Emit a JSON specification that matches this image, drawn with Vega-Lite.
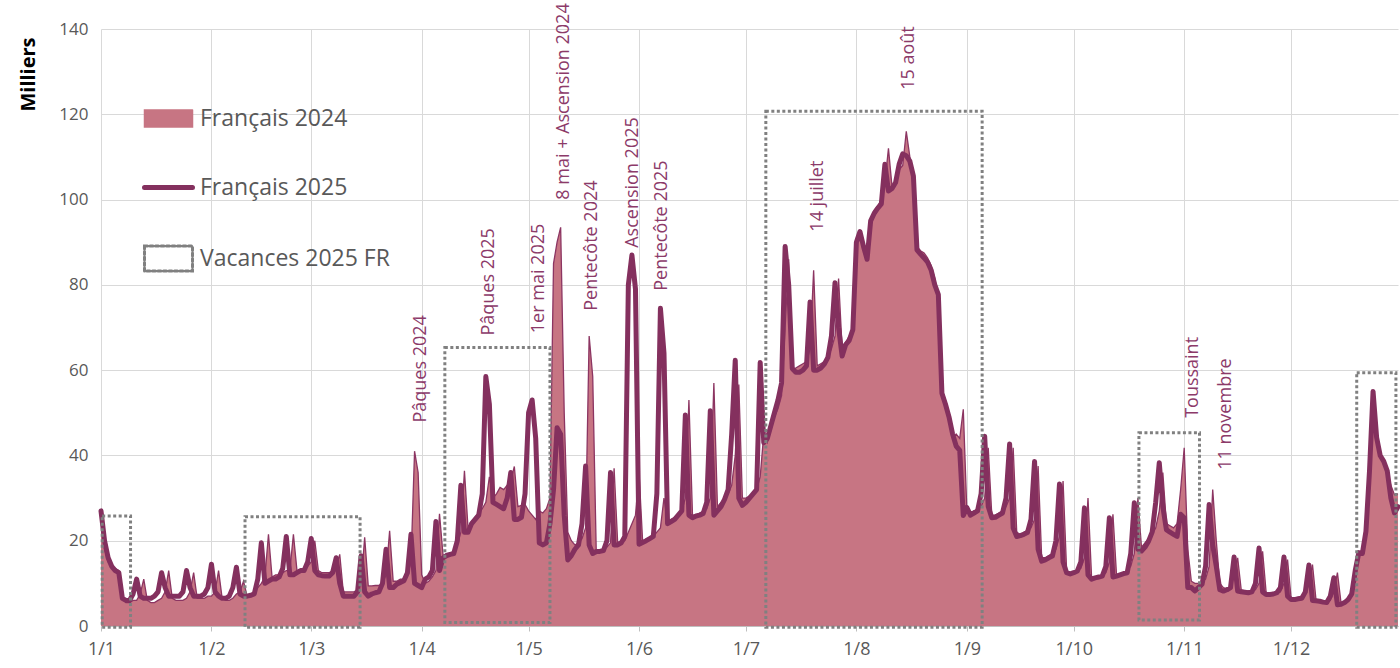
{
  "$schema": "https://vega.github.io/schema/vega-lite/v6.json",
  "width": 1297,
  "height": 597,
  "autosize": {"type": "none"},
  "padding": {"left": 101, "top": 29, "right": 2, "bottom": 42},
  "background": "white",
  "config": {
    "view": {"stroke": null},
    "font": "Open Sans",
    "axis": {"gridColor": "#d9d9d9", "gridWidth": 1, "labelFont": "Open Sans", "labelColor": "#595959", "labelFontSize": 17}
  },
  "datasets": {
    "series": [
{"d":"2025-01-01","a":26,"b":27},{"d":"2025-01-02","a":18,"b":20},{"d":"2025-01-03","a":15,"b":16},{"d":"2025-01-04","a":14,"b":14},{"d":"2025-01-05","a":13.5,"b":13},{"d":"2025-01-06","a":13,"b":12.5},{"d":"2025-01-07","a":7,"b":6.5},{"d":"2025-01-08","a":5.5,"b":6},{"d":"2025-01-09","a":5.5,"b":6},{"d":"2025-01-10","a":6,"b":7.5},{"d":"2025-01-11","a":6,"b":11},{"d":"2025-01-12","a":7.5,"b":7},{"d":"2025-01-13","a":11,"b":6.5},{"d":"2025-01-14","a":6,"b":6.5},{"d":"2025-01-15","a":5.5,"b":6.5},{"d":"2025-01-16","a":5.5,"b":7},{"d":"2025-01-17","a":6,"b":8},{"d":"2025-01-18","a":6.5,"b":12.5},{"d":"2025-01-19","a":8,"b":9},{"d":"2025-01-20","a":13,"b":7},{"d":"2025-01-21","a":6.5,"b":7},{"d":"2025-01-22","a":6,"b":7},{"d":"2025-01-23","a":6,"b":7},{"d":"2025-01-24","a":6,"b":8},{"d":"2025-01-25","a":6.5,"b":13},{"d":"2025-01-26","a":8,"b":9},{"d":"2025-01-27","a":12.5,"b":7},{"d":"2025-01-28","a":6.5,"b":7},{"d":"2025-01-29","a":6.5,"b":7},{"d":"2025-01-30","a":6.5,"b":7.5},{"d":"2025-01-31","a":7,"b":9},
{"d":"2025-02-01","a":7,"b":14.5},{"d":"2025-02-02","a":8,"b":8},{"d":"2025-02-03","a":13,"b":7},{"d":"2025-02-04","a":6.5,"b":6.5},{"d":"2025-02-05","a":6,"b":6.5},{"d":"2025-02-06","a":6,"b":7},{"d":"2025-02-07","a":6.5,"b":9},{"d":"2025-02-08","a":7.5,"b":13.8},{"d":"2025-02-09","a":8,"b":7.5},{"d":"2025-02-10","a":10.5,"b":7},{"d":"2025-02-11","a":7,"b":7},{"d":"2025-02-12","a":7.5,"b":7.2},{"d":"2025-02-13","a":8,"b":7.5},{"d":"2025-02-14","a":9,"b":11},{"d":"2025-02-15","a":10,"b":19.5},{"d":"2025-02-16","a":11.5,"b":10},{"d":"2025-02-17","a":21.5,"b":10.5},{"d":"2025-02-18","a":11.5,"b":11},{"d":"2025-02-19","a":12,"b":11},{"d":"2025-02-20","a":12,"b":11.5},{"d":"2025-02-21","a":12.5,"b":13.5},{"d":"2025-02-22","a":13,"b":21},{"d":"2025-02-23","a":13,"b":12},{"d":"2025-02-24","a":21.5,"b":12},{"d":"2025-02-25","a":13,"b":12.5},{"d":"2025-02-26","a":13,"b":13},{"d":"2025-02-27","a":13.5,"b":13},{"d":"2025-02-28","a":14,"b":15},
{"d":"2025-03-01","a":15,"b":20.5},{"d":"2025-03-02","a":20,"b":13},{"d":"2025-03-03","a":13,"b":12},{"d":"2025-03-04","a":12.5,"b":11.8},{"d":"2025-03-05","a":12.5,"b":11.7},{"d":"2025-03-06","a":12.5,"b":11.7},{"d":"2025-03-07","a":13,"b":12.5},{"d":"2025-03-08","a":14,"b":16},{"d":"2025-03-09","a":16.8,"b":10},{"d":"2025-03-10","a":8,"b":7},{"d":"2025-03-11","a":8,"b":7},{"d":"2025-03-12","a":8,"b":7},{"d":"2025-03-13","a":8,"b":7},{"d":"2025-03-14","a":8.5,"b":8},{"d":"2025-03-15","a":10,"b":16.5},{"d":"2025-03-16","a":20.8,"b":8},{"d":"2025-03-17","a":9.4,"b":7},{"d":"2025-03-18","a":9.4,"b":7.5},{"d":"2025-03-19","a":9.5,"b":7.8},{"d":"2025-03-20","a":9.5,"b":8},{"d":"2025-03-21","a":10,"b":10},{"d":"2025-03-22","a":12,"b":18},{"d":"2025-03-23","a":22.3,"b":9},{"d":"2025-03-24","a":10.5,"b":9},{"d":"2025-03-25","a":10.5,"b":9.8},{"d":"2025-03-26","a":11,"b":10.2},{"d":"2025-03-27","a":11,"b":10.6},{"d":"2025-03-28","a":12,"b":12.5},{"d":"2025-03-29","a":15,"b":21.5},{"d":"2025-03-30","a":41,"b":10},{"d":"2025-03-31","a":36,"b":9.5},
{"d":"2025-04-01","a":12,"b":9},{"d":"2025-04-02","a":10,"b":11},{"d":"2025-04-03","a":10.5,"b":11.5},{"d":"2025-04-04","a":11.5,"b":13},{"d":"2025-04-05","a":13,"b":24.5},{"d":"2025-04-06","a":26.3,"b":13},{"d":"2025-04-07","a":16.5,"b":16},{"d":"2025-04-08","a":17,"b":16.5},{"d":"2025-04-09","a":17,"b":16.8},{"d":"2025-04-10","a":17.5,"b":17},{"d":"2025-04-11","a":19,"b":20},{"d":"2025-04-12","a":22,"b":33},{"d":"2025-04-13","a":36.4,"b":22},{"d":"2025-04-14","a":23,"b":22},{"d":"2025-04-15","a":24.5,"b":24},{"d":"2025-04-16","a":25.5,"b":25},{"d":"2025-04-17","a":26.5,"b":26},{"d":"2025-04-18","a":27.5,"b":31},{"d":"2025-04-19","a":29,"b":58.5},{"d":"2025-04-20","a":35,"b":52},{"d":"2025-04-21","a":30,"b":29},{"d":"2025-04-22","a":31,"b":28.5},{"d":"2025-04-23","a":32.5,"b":28},{"d":"2025-04-24","a":32,"b":27.5},{"d":"2025-04-25","a":33,"b":30},{"d":"2025-04-26","a":34,"b":36},{"d":"2025-04-27","a":37.4,"b":25},{"d":"2025-04-28","a":28,"b":25},{"d":"2025-04-29","a":28.3,"b":25.5},{"d":"2025-04-30","a":28.5,"b":31},
{"d":"2025-05-01","a":27,"b":50},{"d":"2025-05-02","a":26,"b":53},{"d":"2025-05-03","a":25,"b":44},{"d":"2025-05-04","a":27,"b":19.5},{"d":"2025-05-05","a":26.5,"b":19},{"d":"2025-05-06","a":27.5,"b":19.5},{"d":"2025-05-07","a":30,"b":24},{"d":"2025-05-08","a":85,"b":32},{"d":"2025-05-09","a":90,"b":46.5},{"d":"2025-05-10","a":93.5,"b":45},{"d":"2025-05-11","a":50,"b":26},{"d":"2025-05-12","a":22,"b":15.5},{"d":"2025-05-13","a":20,"b":16.5},{"d":"2025-05-14","a":19,"b":18},{"d":"2025-05-15","a":19.5,"b":19},{"d":"2025-05-16","a":20.5,"b":24},{"d":"2025-05-17","a":23,"b":37.5},{"d":"2025-05-18","a":68,"b":19},{"d":"2025-05-19","a":58.5,"b":17},{"d":"2025-05-20","a":17,"b":17.5},{"d":"2025-05-21","a":17.5,"b":17.5},{"d":"2025-05-22","a":18,"b":17.7},{"d":"2025-05-23","a":18.5,"b":20},{"d":"2025-05-24","a":19.5,"b":36},{"d":"2025-05-25","a":37,"b":19},{"d":"2025-05-26","a":19.5,"b":19},{"d":"2025-05-27","a":20,"b":19.5},{"d":"2025-05-28","a":20,"b":21},{"d":"2025-05-29","a":22,"b":80},{"d":"2025-05-30","a":24,"b":87},{"d":"2025-05-31","a":26,"b":79},
{"d":"2025-06-01","a":36,"b":19.2},{"d":"2025-06-02","a":20,"b":19.6},{"d":"2025-06-03","a":20,"b":20},{"d":"2025-06-04","a":20.5,"b":20.5},{"d":"2025-06-05","a":21,"b":21},{"d":"2025-06-06","a":22,"b":31},{"d":"2025-06-07","a":23,"b":74.5},{"d":"2025-06-08","a":30,"b":64},{"d":"2025-06-09","a":24.5,"b":24},{"d":"2025-06-10","a":25,"b":24.5},{"d":"2025-06-11","a":25.5,"b":25},{"d":"2025-06-12","a":26,"b":26},{"d":"2025-06-13","a":27,"b":27},{"d":"2025-06-14","a":30,"b":49.5},{"d":"2025-06-15","a":53,"b":26},{"d":"2025-06-16","a":26,"b":25.4},{"d":"2025-06-17","a":26,"b":25.8},{"d":"2025-06-18","a":26.4,"b":26},{"d":"2025-06-19","a":27,"b":26.4},{"d":"2025-06-20","a":27.5,"b":29},{"d":"2025-06-21","a":30,"b":50.5},{"d":"2025-06-22","a":57,"b":26},{"d":"2025-06-23","a":28,"b":27},{"d":"2025-06-24","a":29,"b":28},{"d":"2025-06-25","a":30,"b":29.7},{"d":"2025-06-26","a":31,"b":32},{"d":"2025-06-27","a":33,"b":45},{"d":"2025-06-28","a":40,"b":62.3},{"d":"2025-06-29","a":56.6,"b":30},{"d":"2025-06-30","a":30,"b":28.3},
{"d":"2025-07-01","a":30,"b":29},{"d":"2025-07-02","a":30.5,"b":30},{"d":"2025-07-03","a":31,"b":31},{"d":"2025-07-04","a":32,"b":32},{"d":"2025-07-05","a":35,"b":61.8},{"d":"2025-07-06","a":45,"b":43},{"d":"2025-07-07","a":43,"b":44},{"d":"2025-07-08","a":46,"b":47},{"d":"2025-07-09","a":49,"b":50},{"d":"2025-07-10","a":51,"b":53},{"d":"2025-07-11","a":54,"b":57},{"d":"2025-07-12","a":70,"b":89},{"d":"2025-07-13","a":86,"b":80},{"d":"2025-07-14","a":60,"b":60.4},{"d":"2025-07-15","a":60.5,"b":59.5},{"d":"2025-07-16","a":61,"b":59.5},{"d":"2025-07-17","a":61.5,"b":60},{"d":"2025-07-18","a":62,"b":61},{"d":"2025-07-19","a":65,"b":76},{"d":"2025-07-20","a":83.4,"b":60},{"d":"2025-07-21","a":61,"b":60},{"d":"2025-07-22","a":61.5,"b":60.5},{"d":"2025-07-23","a":62,"b":61.4},{"d":"2025-07-24","a":63,"b":63},{"d":"2025-07-25","a":65,"b":68},{"d":"2025-07-26","a":68,"b":80.5},{"d":"2025-07-27","a":81.5,"b":70},{"d":"2025-07-28","a":65,"b":63.3},{"d":"2025-07-29","a":66.5,"b":66},{"d":"2025-07-30","a":68,"b":67},{"d":"2025-07-31","a":70,"b":69.5},
{"d":"2025-08-01","a":91,"b":90},{"d":"2025-08-02","a":92,"b":92.5},{"d":"2025-08-03","a":90,"b":89},{"d":"2025-08-04","a":87,"b":86},{"d":"2025-08-05","a":94,"b":95},{"d":"2025-08-06","a":97.5,"b":96.8},{"d":"2025-08-07","a":98.5,"b":98},{"d":"2025-08-08","a":100,"b":99},{"d":"2025-08-09","a":104,"b":108.3},{"d":"2025-08-10","a":112,"b":102},{"d":"2025-08-11","a":103,"b":102.6},{"d":"2025-08-12","a":104.5,"b":104},{"d":"2025-08-13","a":107,"b":108.3},{"d":"2025-08-14","a":108,"b":110.7},{"d":"2025-08-15","a":116,"b":110.3},{"d":"2025-08-16","a":110,"b":109},{"d":"2025-08-17","a":104,"b":105.5},{"d":"2025-08-18","a":89,"b":88.2},{"d":"2025-08-19","a":88,"b":87.2},{"d":"2025-08-20","a":87.5,"b":86.3},{"d":"2025-08-21","a":86.3,"b":85.3},{"d":"2025-08-22","a":84.5,"b":83.4},{"d":"2025-08-23","a":81.5,"b":80},{"d":"2025-08-24","a":76.7,"b":77.7},{"d":"2025-08-25","a":55.6,"b":54.6},{"d":"2025-08-26","a":53,"b":52},{"d":"2025-08-27","a":50,"b":49},{"d":"2025-08-28","a":44,"b":45},{"d":"2025-08-29","a":45,"b":42.2},{"d":"2025-08-30","a":44,"b":41.2},{"d":"2025-08-31","a":50.8,"b":25.9},
{"d":"2025-09-01","a":27,"b":27.8},{"d":"2025-09-02","a":26.5,"b":26},{"d":"2025-09-03","a":27,"b":26.5},{"d":"2025-09-04","a":27.5,"b":27},{"d":"2025-09-05","a":28,"b":31},{"d":"2025-09-06","a":30,"b":44.5},{"d":"2025-09-07","a":41.8,"b":28},{"d":"2025-09-08","a":26,"b":25.4},{"d":"2025-09-09","a":26,"b":25.5},{"d":"2025-09-10","a":26.5,"b":26},{"d":"2025-09-11","a":27,"b":26.5},{"d":"2025-09-12","a":28,"b":30},{"d":"2025-09-13","a":30,"b":42.7},{"d":"2025-09-14","a":41.8,"b":23},{"d":"2025-09-15","a":22,"b":21},{"d":"2025-09-16","a":21.5,"b":21.2},{"d":"2025-09-17","a":22,"b":21.5},{"d":"2025-09-18","a":22.5,"b":21.9},{"d":"2025-09-19","a":23,"b":25},{"d":"2025-09-20","a":25,"b":38.6},{"d":"2025-09-21","a":37.5,"b":18},{"d":"2025-09-22","a":16,"b":15.2},{"d":"2025-09-23","a":16,"b":15.5},{"d":"2025-09-24","a":16.5,"b":16},{"d":"2025-09-25","a":17,"b":16.4},{"d":"2025-09-26","a":18,"b":20},{"d":"2025-09-27","a":21,"b":33.3},{"d":"2025-09-28","a":34,"b":15},{"d":"2025-09-29","a":13,"b":12.5},{"d":"2025-09-30","a":12.5,"b":12.2},
{"d":"2025-10-01","a":12.5,"b":12.5},{"d":"2025-10-02","a":13,"b":12.9},{"d":"2025-10-03","a":13.5,"b":15},{"d":"2025-10-04","a":16,"b":27.7},{"d":"2025-10-05","a":30,"b":12},{"d":"2025-10-06","a":11.5,"b":11},{"d":"2025-10-07","a":11.5,"b":11.3},{"d":"2025-10-08","a":11.7,"b":11.5},{"d":"2025-10-09","a":12,"b":11.7},{"d":"2025-10-10","a":12.5,"b":14},{"d":"2025-10-11","a":15,"b":25.4},{"d":"2025-10-12","a":26.2,"b":11.5},{"d":"2025-10-13","a":12,"b":11.7},{"d":"2025-10-14","a":12,"b":12},{"d":"2025-10-15","a":12.5,"b":12.3},{"d":"2025-10-16","a":13,"b":12.5},{"d":"2025-10-17","a":14,"b":17},{"d":"2025-10-18","a":17,"b":28.9},{"d":"2025-10-19","a":30,"b":18},{"d":"2025-10-20","a":18.5,"b":17.6},{"d":"2025-10-21","a":19.5,"b":18.5},{"d":"2025-10-22","a":20.5,"b":19.9},{"d":"2025-10-23","a":21.5,"b":22},{"d":"2025-10-24","a":23,"b":29},{"d":"2025-10-25","a":27,"b":38.3},{"d":"2025-10-26","a":36,"b":28},{"d":"2025-10-27","a":24,"b":22.6},{"d":"2025-10-28","a":23.5,"b":22},{"d":"2025-10-29","a":23,"b":21.5},{"d":"2025-10-30","a":24,"b":21},{"d":"2025-10-31","a":32,"b":26.2},
{"d":"2025-11-01","a":41.8,"b":25.4},{"d":"2025-11-02","a":18,"b":9},{"d":"2025-11-03","a":10.5,"b":9},{"d":"2025-11-04","a":10,"b":8.2},{"d":"2025-11-05","a":10,"b":9},{"d":"2025-11-06","a":10.5,"b":9.8},{"d":"2025-11-07","a":11,"b":14},{"d":"2025-11-08","a":14,"b":28.5},{"d":"2025-11-09","a":32,"b":19},{"d":"2025-11-10","a":20,"b":14},{"d":"2025-11-11","a":10,"b":8.5},{"d":"2025-11-12","a":9,"b":8.2},{"d":"2025-11-13","a":8.7,"b":8.5},{"d":"2025-11-14","a":9,"b":9},{"d":"2025-11-15","a":12,"b":16.2},{"d":"2025-11-16","a":16,"b":8.2},{"d":"2025-11-17","a":8.5,"b":8},{"d":"2025-11-18","a":8.3,"b":7.9},{"d":"2025-11-19","a":8.2,"b":7.8},{"d":"2025-11-20","a":8.3,"b":8},{"d":"2025-11-21","a":8.5,"b":10},{"d":"2025-11-22","a":10,"b":18.3},{"d":"2025-11-23","a":17.5,"b":8},{"d":"2025-11-24","a":7.8,"b":7.4},{"d":"2025-11-25","a":7.6,"b":7.4},{"d":"2025-11-26","a":7.6,"b":7.5},{"d":"2025-11-27","a":7.8,"b":7.8},{"d":"2025-11-28","a":8,"b":9},{"d":"2025-11-29","a":10,"b":16.2},{"d":"2025-11-30","a":15.6,"b":7},
{"d":"2025-12-01","a":6.5,"b":6.2},{"d":"2025-12-02","a":6.5,"b":6.2},{"d":"2025-12-03","a":6.7,"b":6.4},{"d":"2025-12-04","a":7,"b":6.5},{"d":"2025-12-05","a":7.5,"b":8},{"d":"2025-12-06","a":10,"b":14.3},{"d":"2025-12-07","a":14.4,"b":6},{"d":"2025-12-08","a":6,"b":5.9},{"d":"2025-12-09","a":6,"b":5.8},{"d":"2025-12-10","a":5.8,"b":5.6},{"d":"2025-12-11","a":5.8,"b":5.5},{"d":"2025-12-12","a":6,"b":7},{"d":"2025-12-13","a":8,"b":11.3},{"d":"2025-12-14","a":12.5,"b":5},{"d":"2025-12-15","a":5.5,"b":5.1},{"d":"2025-12-16","a":5.8,"b":5.5},{"d":"2025-12-17","a":6.2,"b":6.2},{"d":"2025-12-18","a":7,"b":7.5},{"d":"2025-12-19","a":10,"b":13},{"d":"2025-12-20","a":16.8,"b":17.2},{"d":"2025-12-21","a":18,"b":17},{"d":"2025-12-22","a":22.5,"b":22.2},{"d":"2025-12-23","a":33,"b":36.3},{"d":"2025-12-24","a":50,"b":55},{"d":"2025-12-25","a":46,"b":44.2},{"d":"2025-12-26","a":41,"b":40},{"d":"2025-12-27","a":37.9,"b":38.6},{"d":"2025-12-28","a":36,"b":36.3},{"d":"2025-12-29","a":33,"b":30},{"d":"2025-12-30","a":30.8,"b":26.5},{"d":"2025-12-31","a":31,"b":28}
    ],
    "boxes": [
      {"x0":"2025-01-01T08:00:00Z","x1":"2025-01-09T07:00:00Z","top":25.8,"bottom":-0.3},
      {"x0":"2025-02-10T10:00:00Z","x1":"2025-03-14T17:00:00Z","top":25.6,"bottom":-0.3},
      {"x0":"2025-04-07T12:00:00Z","x1":"2025-05-07T00:00:00Z","top":65.3,"bottom":0.8},
      {"x0":"2025-07-06T14:00:00Z","x1":"2025-09-05T07:00:00Z","top":120.7,"bottom":-0.3},
      {"x0":"2025-10-19T07:00:00Z","x1":"2025-11-05T07:00:00Z","top":45.3,"bottom":1.4},
      {"x0":"2025-12-19T10:00:00Z","x1":"2025-12-30T10:00:00Z","top":59.4,"bottom":-0.3}
    ],
    "notes": [
      {"t":"Pâques 2024","x":"2025-03-31T19:00:00Z","y":60.3},
      {"t":"Pâques 2025","x":"2025-04-19T22:00:00Z","y":80.7},
      {"t":"1er mai 2025","x":"2025-05-03T22:00:00Z","y":81.5},
      {"t":"8 mai + Ascension 2024","x":"2025-05-10T22:00:00Z","y":123},
      {"t":"Pentecôte 2024","x":"2025-05-18T19:00:00Z","y":89.2},
      {"t":"Ascension 2025","x":"2025-05-30T07:00:00Z","y":104},
      {"t":"Pentecôte 2025","x":"2025-06-07T12:00:00Z","y":93.9},
      {"t":"14 juillet","x":"2025-07-21T05:00:00Z","y":100.8},
      {"t":"15 août","x":"2025-08-15T19:00:00Z","y":133.2},
      {"t":"Toussaint","x":"2025-11-03T12:00:00Z","y":58.3},
      {"t":"11 novembre","x":"2025-11-12T17:00:00Z","y":49.7}
    ]
  },
  "layer": [
    {
      "data": {"name": "series"},
      "mark": {"type": "area", "interpolate": "linear"},
      "encoding": {
        "x": {
          "field": "d", "type": "temporal",
          "scale": {"type": "utc", "domain": ["2025-01-01", "2025-12-31"], "nice": false},
          "axis": {
            "title": null,
            "tickCount": {"interval": "month", "step": 1},
            "format": "%-d/%-m",
            "grid": true,
            "domainColor": "#bfbfbf",
            "tickColor": "#bfbfbf",
            "tickSize": 5,
            "labelPadding": 9,
            "labelFontSize": 18,
            "labelFlush": false,
            "labelOverlap": false
          }
        },
        "y": {
          "field": "a", "type": "quantitative",
          "scale": {"domain": [0, 140], "nice": false},
          "axis": {
            "title": "Milliers",
            "values": [0, 20, 40, 60, 80, 100, 120, 140],
            "grid": true,
            "domain": false,
            "ticks": false,
            "labelPadding": 13,
            "titleFont": "Open Sans",
            "titleFontWeight": "bold",
            "titleFontSize": 20,
            "titleColor": "#000000",
            "titleAngle": 270,
            "titleX": -73,
            "titleY": 45,
            "titleAlign": "center",
            "titleBaseline": "middle"
          }
        },
        "color": {
          "datum": "Français 2024",
          "scale": {"domain": ["Français 2024", "Français 2025", "Vacances 2025 FR"], "range": ["#c77583", "#84305e", "#808080"]},
          "legend": {
            "orient": "none",
            "legendX": 56,
            "legendY": 78,
            "title": null,
            "padding": 0,
            "labelFont": "Open Sans",
            "labelFontSize": 23,
            "labelColor": "#595959",
            "labelOffset": 20,
            "labelLimit": 400,
            "symbolSize": 2304,
            "rowPadding": 29,
            "symbolType": "M-1,-0.35H1V0.35H-1Z",
            "encode": {
              "symbols": {
                "update": {
                  "shape": {"signal": "datum.value === 'Français 2025' ? 'M-1,-0.53M1,0.53M-1,0H1' : datum.value === 'Vacances 2025 FR' ? 'M-1,-0.52H1V0.52H-1Z' : 'M-1,-0.53M1,0.53M-1,-0.35H1V0.35H-1Z'"},
                  "fill": {"signal": "datum.value === 'Français 2024' ? '#c77583' : 'transparent'"},
                  "fillOpacity": {"signal": "datum.value === 'Français 2024' ? 1 : 0"},
                  "stroke": {"signal": "datum.value === 'Français 2024' ? '#8c3562' : datum.value === 'Français 2025' ? '#84305e' : '#808080'"},
                  "strokeWidth": {"signal": "datum.value === 'Français 2024' ? 1.5 : datum.value === 'Français 2025' ? 5 : 3"},
                  "strokeDash": {"signal": "datum.value === 'Vacances 2025 FR' ? [3, 2.5] : [1, 0]"},
                  "strokeCap": {"value": "round"},
                  "opacity": {"value": 1}
                }
              }
            }
          }
        }
      }
    },
    {
      "data": {"name": "series"},
      "mark": {"type": "line", "color": "#8c3562", "strokeWidth": 1.3},
      "encoding": {
        "x": {"field": "d", "type": "temporal"},
        "y": {"field": "a", "type": "quantitative"}
      }
    },
    {
      "data": {"name": "series"},
      "mark": {"type": "line", "strokeWidth": 5, "strokeJoin": "round", "strokeCap": "round"},
      "encoding": {
        "x": {"field": "d", "type": "temporal"},
        "y": {"field": "b", "type": "quantitative"},
        "color": {"datum": "Français 2025"}
      }
    },
    {
      "data": {"name": "boxes"},
      "mark": {"type": "rect", "filled": false, "strokeWidth": 3, "strokeDash": [3, 2.5]},
      "encoding": {
        "x": {"field": "x0", "type": "temporal"},
        "x2": {"field": "x1"},
        "y": {"field": "top", "type": "quantitative"},
        "y2": {"field": "bottom"},
        "color": {"datum": "Vacances 2025 FR"}
      }
    },
    {
      "data": {"name": "notes"},
      "mark": {"type": "text", "angle": 270, "align": "center", "baseline": "middle", "font": "Open Sans", "fontSize": 18, "color": "#8c3a69"},
      "encoding": {
        "x": {"field": "x", "type": "temporal"},
        "y": {"field": "y", "type": "quantitative"},
        "text": {"field": "t"}
      }
    }
  ]
}
